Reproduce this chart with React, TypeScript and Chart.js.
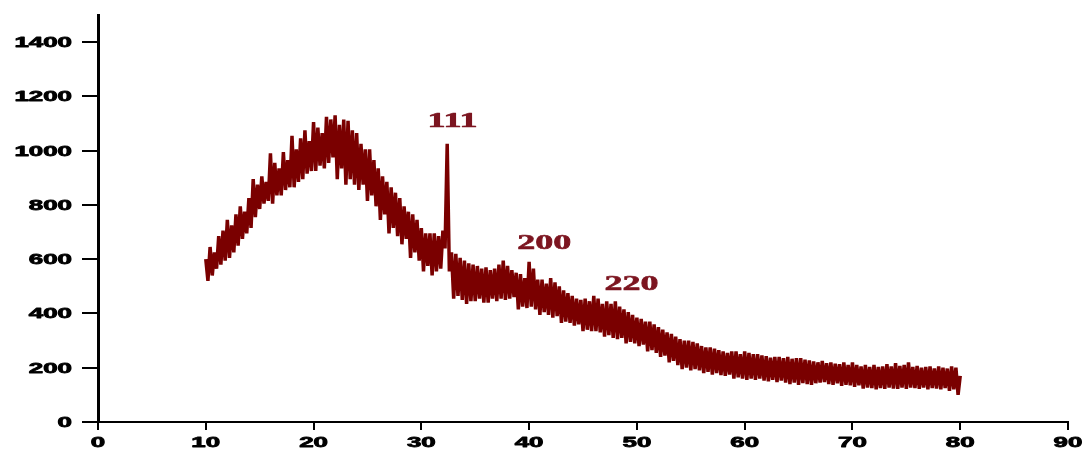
import React, { useEffect, useRef } from "react";
import { Chart, registerables } from "chart.js";

Chart.register(...registerables);

// 2-theta sampling of the scan
const angleStart = 10;
const angleStep = 0.2;

// Intensity, five samples per degree (10.0 .. 80.0)
const intensity: number[] = [
  600, 520, 645, 540, 625, // 10
  565, 685, 580, 705, 595, // 11
  745, 605, 725, 625, 765, // 12
  650, 795, 675, 775, 695, // 13
  825, 715, 895, 755, 875, // 14
  785, 905, 805, 885, 815, // 15
  990, 805, 955, 835, 935, // 16
  835, 995, 855, 965, 865, // 17
  1055, 865, 1005, 885, 1045, // 18
  895, 1075, 915, 1035, 925, // 19
  1105, 925, 1085, 945, 1065, // 20
  935, 1125, 955, 1115, 975, // 21
  1130, 895, 1095, 935, 1115, // 22
  875, 1110, 895, 1075, 875, // 23
  1065, 855, 1025, 875, 1005, // 24
  815, 1005, 835, 965, 795, // 25
  935, 745, 905, 765, 885, // 26
  695, 865, 715, 845, 685, // 27
  825, 655, 795, 675, 775, // 28
  605, 765, 625, 745, 595, // 29
  715, 555, 695, 575, 695, // 30
  540, 695, 555, 685, 565, // 31
  705, 640, 1025, 555, 625, // 32
  455, 620, 465, 605, 450, // 33
  595, 435, 585, 445, 580, // 34
  445, 575, 455, 565, 440, // 35
  570, 440, 560, 455, 565, // 36
  445, 580, 455, 595, 450, // 37
  575, 455, 560, 460, 550, // 38
  415, 545, 425, 530, 420, // 39
  590, 425, 565, 415, 525, // 40
  395, 525, 405, 510, 395, // 41
  530, 385, 515, 390, 500, // 42
  365, 485, 370, 475, 365, // 43
  465, 355, 455, 360, 450, // 44
  335, 455, 340, 445, 335, // 45
  465, 335, 455, 330, 435, // 46
  315, 445, 320, 435, 310, // 47
  445, 305, 425, 310, 415, // 48
  290, 405, 295, 395, 290, // 49
  385, 280, 380, 285, 370, // 50
  260, 370, 265, 360, 255, // 51
  350, 240, 340, 245, 330, // 52
  220, 325, 225, 315, 210, // 53
  305, 195, 300, 200, 300, // 54
  190, 295, 195, 290, 190, // 55
  280, 180, 275, 185, 275, // 56
  175, 270, 180, 265, 173, // 57
  260, 170, 255, 175, 260, // 58
  160, 260, 165, 250, 160, // 59
  260, 155, 255, 160, 250, // 60
  155, 250, 160, 245, 153, // 61
  243, 150, 237, 155, 240, // 62
  147, 240, 153, 235, 145, // 63
  240, 140, 233, 145, 235, // 64
  137, 235, 143, 230, 140, // 65
  227, 137, 223, 143, 220, // 66
  145, 225, 147, 217, 140, // 67
  220, 137, 215, 143, 213, // 68
  133, 220, 137, 210, 135, // 69
  220, 130, 210, 135, 205, // 70
  123, 210, 127, 203, 125, // 71
  210, 120, 203, 125, 205, // 72
  122, 213, 127, 205, 123, // 73
  217, 122, 207, 127, 210, // 74
  122, 220, 127, 203, 125, // 75
  207, 122, 200, 127, 203, // 76
  120, 205, 125, 197, 123, // 77
  205, 120, 200, 125, 197, // 78
  115, 205, 120, 200, 100, // 79
  170, // 80
];

// Axis ticks
const xTickValues = [0, 10, 20, 30, 40, 50, 60, 70, 80, 90];
const yTickValues = [0, 200, 400, 600, 800, 1000, 1200, 1400];

// Peak labels (Miller indices) and where their text sits
const peakLabels = ["111", "200", "220"];
const peakLabelAngles = [32.9, 41.4, 49.5];
const peakLabelIntensities = [1088, 639, 485];

const LINE_COLOR = "#7a0000";
const LABEL_COLOR = "#7c1520";

function drawStretched(
  ctx: CanvasRenderingContext2D,
  text: string,
  x: number,
  y: number,
  font: string,
  color: string,
  align: CanvasTextAlign,
  stretch: number,
  weight: number
) {
  ctx.save();
  ctx.font = font;
  ctx.fillStyle = color;
  ctx.strokeStyle = color;
  ctx.lineWidth = weight;
  ctx.lineJoin = "round";
  ctx.textBaseline = "alphabetic";
  ctx.textAlign = align;
  ctx.translate(x, y);
  ctx.scale(stretch, 1);
  ctx.fillText(text, 0, 0);
  if (weight > 0) ctx.strokeText(text, 0, 0);
  ctx.restore();
}

const labelPlugin = {
  id: "stretchedLabels",
  afterDraw(chart: any) {
    const ctx: CanvasRenderingContext2D = chart.ctx;
    const xs = chart.scales.x;
    const ys = chart.scales.y;
    const axisFont = "bold 14px 'Liberation Sans', Arial, sans-serif";
    yTickValues.forEach((v) => {
      const py = ys.getPixelForValue(v);
      drawStretched(ctx, String(v), xs.left - 26, py + 5, axisFont, "#000", "right", 1.85, 0.8);
    });
    xTickValues.forEach((v) => {
      const px = xs.getPixelForValue(v);
      drawStretched(ctx, String(v), px, ys.bottom + 25, axisFont, "#000", "center", 1.85, 0.8);
    });
    const serifFont = "bold 20px 'Liberation Serif', 'Times New Roman', serif";
    peakLabels.forEach((t, i) => {
      const px = xs.getPixelForValue(peakLabelAngles[i]);
      const py = ys.getPixelForValue(peakLabelIntensities[i]);
      drawStretched(ctx, t, px, py, serifFont, LABEL_COLOR, "center", 1.8, 0.6);
    });
  },
};

export default function App() {
  const ref = useRef<HTMLCanvasElement | null>(null);

  useEffect(() => {
    if (!ref.current) return;
    const points = intensity.map((y, i) => ({ x: angleStart + i * angleStep, y }));
    const chart = new Chart(ref.current, {
      type: "line",
      data: {
        datasets: [
          {
            data: points,
            borderColor: LINE_COLOR,
            borderWidth: 3.5,
            borderJoinStyle: "bevel",
            pointRadius: 0,
            tension: 0,
            fill: false,
          },
        ],
      },
      options: {
        animation: false,
        responsive: false,
        devicePixelRatio: 1,
        layout: { padding: { left: 82, right: 21, top: 15, bottom: 20 } },
        plugins: {
          legend: { display: false },
          tooltip: { enabled: false },
        },
        scales: {
          x: {
            type: "linear",
            min: 0,
            max: 90,
            afterBuildTicks: (axis: any) => {
              axis.ticks = xTickValues.map((value) => ({ value }));
            },
            ticks: { display: false },
            grid: {
              display: true,
              drawOnChartArea: false,
              drawTicks: true,
              tickLength: 8,
              color: "#000",
              lineWidth: 2,
            },
            border: { display: true, color: "#000", width: 2 },
          },
          y: {
            type: "linear",
            min: 0,
            max: 1500,
            afterBuildTicks: (axis: any) => {
              axis.ticks = yTickValues.map((value) => ({ value }));
            },
            ticks: { display: false },
            grid: {
              display: true,
              drawOnChartArea: false,
              drawTicks: true,
              tickLength: 16,
              color: "#000",
              lineWidth: 2,
            },
            border: { display: true, color: "#000", width: 3 },
          },
        },
      },
      plugins: [labelPlugin],
    });
    return () => chart.destroy();
  }, []);

  return (
    <div
      style={{
        position: "fixed",
        left: 0,
        top: 0,
        width: 1089,
        height: 450,
        background: "#fff",
      }}
    >
      <canvas ref={ref} width={1089} height={450} />
    </div>
  );
}
